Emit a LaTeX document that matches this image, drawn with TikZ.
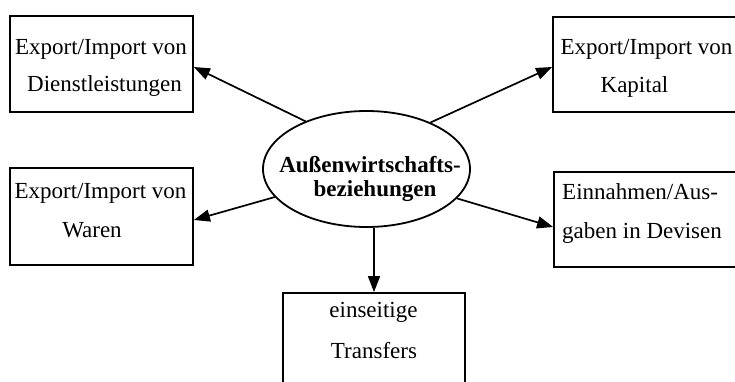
\documentclass[tikz,border=0pt]{standalone}
\usepackage{fontspec}
\setmainfont{Liberation Serif}
\usetikzlibrary{arrows.meta,shapes.geometric,calc}
\tikzset{
  box/.style={draw=black, line width=1.8pt, rectangle, minimum width=183pt, inner sep=0pt},
  oval/.style={draw=black, line width=1.8pt, ellipse, minimum width=207pt, minimum height=116pt, inner sep=0pt},
  txt/.style={anchor=base, inner sep=0pt, font=\fontsize{23}{27}\selectfont},
  btxt/.style={txt, font=\fontsize{23}{27}\selectfont\bfseries},
  ltxt/.style={txt, anchor=base west},
  conn/.style={line width=1.7pt, -{Triangle[length=16pt,width=12pt]}}
}
\begin{document}
\begin{tikzpicture}[x=1pt,y=-1pt]
\useasboundingbox (0,0) rectangle (735,382);
\clip (0,0) rectangle (735,382);
\fill[white] (0,0) rectangle (735,382);
% boxes
\node[box, minimum height=96pt] (b1) at (101.5,64) {};
\node[box, minimum height=95pt] (b2) at (644.5,64.5) {};
\node[box, minimum height=97pt] (b3) at (101.5,216.5) {};
\node[box, minimum height=95pt] (b4) at (645.5,219.5) {};
\node[box, minimum width=182pt, minimum height=96pt] (b5) at (374,341) {};
\node[oval] (e) at (366.5,169) {};
% texts
\node[txt] (t1a) at (101,55) {Export/Import von};
\node[txt] (t1b) at (104.5,92) {Dienstleistungen};
\node[txt] (t2a) at (646.5,55) {Export/Import von};
\node[txt] (t2b) at (634.5,93) {Kapital};
\node[txt] (t3a) at (100.5,198) {Export/Import von};
\node[txt] (t3b) at (92,237) {Waren};
\node[ltxt] (t4a) at (562,199) {Einnahmen/Aus-};
\node[ltxt] (t4b) at (562,238) {gaben in Devisen};
\node[txt] (t5a) at (373.5,317) {einseitige};
\node[txt] (t5b) at (374,358) {Transfers};
\node[btxt] (eta) at (370,172) {Außenwirtschafts-};
\node[btxt] (etb) at (375,196) {beziehungen};
% connectors
\draw[conn] (e.142.6) -- ([yshift=-3pt]b1.east);
\draw[conn] (e.36.5) -- ([yshift=-2.5pt]b2.west);
\draw[conn] (e.197.6) -- ([yshift=-3.5pt]b3.east);
\draw[conn] (e.342.4) -- ([yshift=-7.5pt]b4.west);
\draw[conn] (b5.north |- e.south) -- (b5.north);
\end{tikzpicture}
\end{document}
